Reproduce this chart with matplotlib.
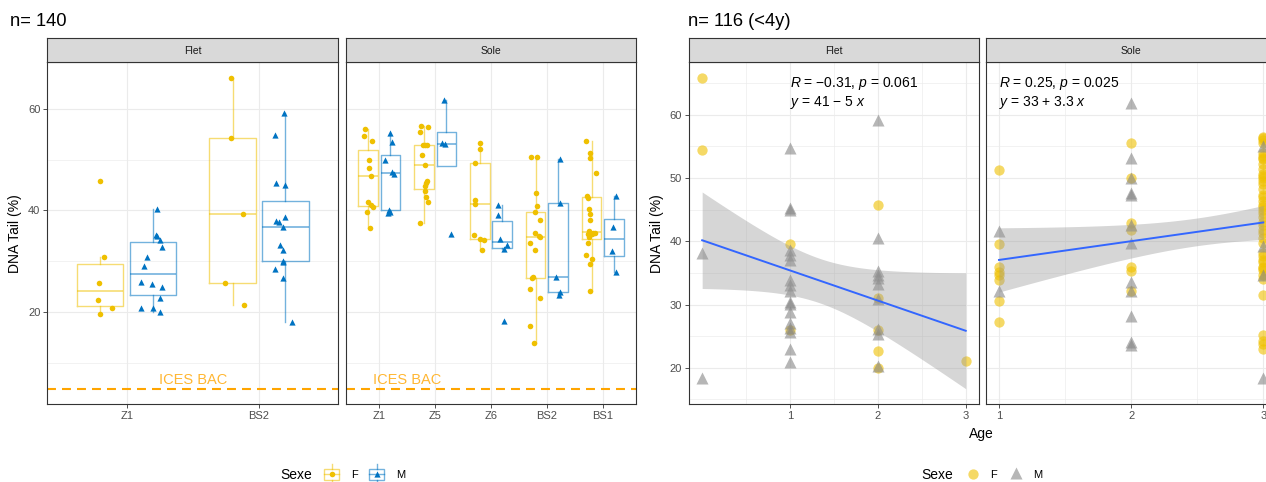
"""Comet assay DNA tail (%) by site and sex (boxplots) and vs. age (lm fits)."""

import numpy as np
import matplotlib

matplotlib.use("Agg")
import matplotlib.pyplot as plt
from matplotlib.colors import to_rgba

plt.rcParams["font.family"] = ["Liberation Sans", "DejaVu Sans"]
plt.rcParams["mathtext.fontset"] = "custom"
plt.rcParams["mathtext.rm"] = "Liberation Sans"
plt.rcParams["mathtext.it"] = "Liberation Sans:italic"

W, H = 1266, 482
YELLOW, BLUE, GREY = "#EFC000", "#0073C2", "#868686"
ICES_BAC = 5.0

# ---- left: DNA tail by site, sex (values + horizontal jitter)
FLET_SITES = ["Z1", "BS2"]
SOLE_SITES = ["Z1", "Z5", "Z6", "BS2", "BS1"]

flet_z1_f = [45.7, 30.8, 25.8, 22.5, 20.8, 19.6]
flet_z1_f_jit = [0.00, 0.03, -0.01, -0.02, 0.09, 0.00]
flet_z1_m = [40.3, 35.2, 34.9, 34.2, 32.8, 30.8, 29.1, 26.0, 25.5, 25.0, 22.9, 20.8, 20.9, 20.0]
flet_z1_m_jit = [0.03, 0.02, 0.03, 0.05, 0.07, -0.05, -0.07, -0.09, -0.01, 0.07, 0.05, -0.09, 0.00, 0.05]
flet_bs2_f = [66.1, 54.2, 39.3, 25.8, 21.4]
flet_bs2_f_jit = [-0.01, -0.01, 0.08, -0.06, 0.09]
flet_bs2_m = [59.2, 54.8, 45.3, 45.1, 38.8, 37.9, 37.8, 36.8, 33.2, 32.2, 30.1, 29.9, 28.5, 26.7, 18.2]
flet_bs2_m_jit = [-0.01, -0.08, -0.07, 0.00, 0.00, -0.07, -0.05, -0.02, -0.04, -0.02, -0.02, -0.02, -0.08, -0.02, 0.05]

sole_z1_f = [56.0, 54.7, 53.7, 50.0, 48.4, 46.8, 41.7, 41.0, 40.7, 39.7, 36.5]
sole_z1_f_jit = [-0.065, -0.083, 0.077, 0.024, 0.018, 0.059, -0.006, 0.047, 0.089, -0.012, 0.041]
sole_z1_m = [55.3, 53.5, 49.9, 47.6, 47.2, 40.1, 39.7, 39.5]
sole_z1_m_jit = [-0.006, 0.024, -0.107, 0.03, 0.071, -0.018, 0.0, -0.047]
sole_z5_f = [56.6, 56.4, 55.5, 52.9, 52.9, 52.9, 50.8, 49.0, 45.7, 45.3, 44.8, 43.8, 42.7, 41.7, 37.5]
sole_z5_f_jit = [-0.05, 0.07, -0.08, -0.02, 0.06, 0.02, -0.03, 0.01, 0.06, 0.04, 0.02, 0.01, 0.03, 0.08, -0.07]
sole_z5_m = [61.7, 53.2, 53.1, 35.4]
sole_z5_m_jit = [-0.04, -0.07, -0.02, 0.08]
sole_z6_f = [53.3, 52.1, 49.4, 42.1, 41.2, 35.2, 34.4, 34.2, 32.2]
sole_z6_f_jit = [0.0, 0.01, -0.09, -0.08, -0.09, -0.10, 0.01, 0.08, 0.04]
sole_z6_m = [41.1, 39.1, 34.4, 33.3, 32.4, 18.3]
sole_z6_m_jit = [-0.08, -0.08, -0.04, 0.09, 0.04, 0.03]
sole_bs2_f = [50.6, 50.6, 43.4, 40.9, 39.7, 38.2, 35.5, 34.9, 34.7, 33.7, 32.2, 27.0, 26.8, 24.6, 22.8, 17.4, 14.0]
sole_bs2_f_jit = [-0.085, 0.02, 0.01, 0.02, -0.01, 0.07, -0.01, 0.06, 0.08, -0.10, -0.01, -0.05, -0.06, -0.10, 0.08, -0.10, -0.03]
sole_bs2_m = [50.1, 41.5, 27.0, 24.0, 23.4]
sole_bs2_m_jit = [0.03, 0.03, -0.03, 0.04, 0.01]
sole_bs1_f = [53.6, 51.2, 50.3, 47.4, 42.8, 42.5, 40.2, 39.4, 38.1, 35.9, 35.5, 35.5, 35.4, 35.4, 34.7, 33.7, 31.2, 30.4, 29.5, 24.1]
sole_bs1_f_jit = [-0.09, -0.02, -0.02, 0.08, -0.08, -0.06, -0.04, -0.03, -0.03, -0.04, 0.02, 0.07, -0.07, 0.0, -0.04, -0.06, -0.09, 0.0, -0.03, -0.03]
sole_bs1_m = [42.8, 36.8, 32.0, 28.0]
sole_bs1_m_jit = [0.04, -0.02, -0.03, 0.04]

# ---- right: DNA tail vs age (<4y)
flet_age_f = [0, 0, 1, 1, 2, 2, 2, 2, 2, 3]
flet_dna_f = [65.9, 54.4, 39.6, 26.0, 45.7, 31.0, 26.0, 22.7, 20.0, 21.0]
flet_age_m = [0, 0] + [1] * 17 + [2] * 10
flet_dna_m = [38.1, 18.3,
              54.8, 45.3, 45.0, 38.7, 37.8, 37.1, 33.8, 33.1, 32.2, 30.4, 30.1, 28.8, 27.0, 26.3, 25.7, 22.9, 20.9,
              59.2, 40.5, 35.3, 34.7, 34.2, 33.2, 30.8, 26.2, 25.3, 20.2]

sole_age_f = [1] * 8 + [2] * 7 + [3] * 44
sole_dna_f = [51.2, 39.6, 36.0, 35.2, 34.6, 33.8, 30.5, 27.2,
              55.6, 50.0, 42.9, 41.8, 36.0, 35.3, 32.2,
              56.5, 56.0, 53.5, 53.0, 52.2, 50.7, 50.0, 49.1, 48.2, 47.4, 46.4, 45.5, 45.0, 43.9,
              42.6, 41.8, 41.3, 40.5, 38.1, 37.6, 36.8, 36.0, 35.4, 34.6, 31.5, 25.1, 24.3, 22.9,
              56.3, 55.5, 54.0, 53.2, 51.5, 50.4, 49.5, 47.0, 45.8, 44.5, 43.0, 39.8, 37.0, 35.8,
              34.0, 23.8]
sole_age_m = [1] * 2 + [2] * 12 + [3] * 4
sole_dna_m = [41.6, 32.1,
              61.8, 53.2, 50.0, 47.7, 47.4, 42.6, 39.7, 33.5, 32.2, 28.2, 24.0, 23.6,
              55.1, 39.2, 34.6, 18.4]

FLET_STATS = ["$R$ = \u22120.31, $p$ = 0.061", "$y$ = 41 \u2212 5 $x$"]
SOLE_STATS = ["$R$ = 0.25, $p$ = 0.025", "$y$ = 33 + 3.3 $x$"]


def px_axes(fig, x0, x1, y0, y1):
    return fig.add_axes([x0 / W, 1 - y1 / H, (x1 - x0) / W, (y1 - y0) / H])


def style_panel(ax):
    for s in ax.spines.values():
        s.set_color("#333333")
        s.set_linewidth(0.8)
    ax.grid(which="major", color="#EBEBEB", lw=0.8)
    ax.grid(which="minor", color="#EBEBEB", lw=0.45)
    ax.set_axisbelow(True)
    ax.tick_params(which="major", length=3, width=0.6, color="#333333",
                   labelsize=8, labelcolor="#4D4D4D", pad=2)
    ax.tick_params(which="minor", length=0)


def strip(fig, x0, x1, label):
    s = px_axes(fig, x0, x1, 38, 62)
    s.set_facecolor("#D9D9D9")
    s.set_xticks([])
    s.set_yticks([])
    for sp in s.spines.values():
        sp.set_color("#333333")
        sp.set_linewidth(0.8)
    s.text(0.5, 0.45, label, ha="center", va="center", fontsize=7.5,
           color="#1A1A1A", transform=s.transAxes)


def box_group(ax, pos, vals, jit, color, marker, ms):
    lc = to_rgba(color, 0.55)
    props = dict(color=lc, lw=1.0)
    ax.boxplot(vals, positions=[pos], widths=0.35, whis=1.5, showfliers=False,
               showcaps=False, boxprops=props, whiskerprops=props,
               medianprops=dict(color=lc, lw=1.2), manage_ticks=False)
    ax.scatter(pos + np.array(jit), vals, s=ms, marker=marker, color=color,
               lw=0, zorder=3)


def t975(df):
    z = 1.959964
    return z + (z ** 3 + z) / (4 * df) + (5 * z ** 5 + 16 * z ** 3 + 3 * z) / (96 * df ** 2)


def lm_band(x, y, xs):
    x, y = np.asarray(x, float), np.asarray(y, float)
    n = len(x)
    b, a = np.polyfit(x, y, 1)
    s = np.sqrt(np.sum((y - (a + b * x)) ** 2) / (n - 2))
    xm = x.mean()
    se = s * np.sqrt(1 / n + (xs - xm) ** 2 / np.sum((x - xm) ** 2))
    fit = a + b * xs
    t = t975(n - 2)
    return fit, fit - t * se, fit + t * se


fig = plt.figure(figsize=(W / 100, H / 100), dpi=100)

# ================= left figure =================
left_groups = {
    "Flet": (FLET_SITES, [(flet_z1_f, flet_z1_f_jit, flet_z1_m, flet_z1_m_jit),
                          (flet_bs2_f, flet_bs2_f_jit, flet_bs2_m, flet_bs2_m_jit)]),
    "Sole": (SOLE_SITES, [(sole_z1_f, sole_z1_f_jit, sole_z1_m, sole_z1_m_jit),
                          (sole_z5_f, sole_z5_f_jit, sole_z5_m, sole_z5_m_jit),
                          (sole_z6_f, sole_z6_f_jit, sole_z6_m, sole_z6_m_jit),
                          (sole_bs2_f, sole_bs2_f_jit, sole_bs2_m, sole_bs2_m_jit),
                          (sole_bs1_f, sole_bs1_f_jit, sole_bs1_m, sole_bs1_m_jit)]),
}
all_left = [v for _, grp in left_groups.values() for g in grp for v in g[0] + g[2]]
lo, hi = min(all_left + [ICES_BAC]), max(all_left)
left_ylim = (lo - 0.05 * (hi - lo), hi + 0.05 * (hi - lo))

for i, (panel, (sites, grp)) in enumerate(left_groups.items()):
    x0, x1 = [(47.3, 338.4), (345.8, 636.2)][i]
    ax = px_axes(fig, x0, x1, 62, 404.3)
    style_panel(ax)
    strip(fig, x0, x1, panel)
    for k, (f, fj, m, mj) in enumerate(grp):
        box_group(ax, k + 1 - 0.2, f, fj, YELLOW, "o", 16)
        box_group(ax, k + 1 + 0.2, m, mj, BLUE, "^", 20)
    ax.axhline(ICES_BAC, color="#FFA500", lw=1.5, dashes=(4.3, 2.9))
    ax.text(1.5, ICES_BAC + 0.3, "ICES BAC", color="#FFA500", alpha=0.8,
            fontsize=10.5, ha="center", va="bottom")
    ax.set_xlim(0.4, len(sites) + 0.6)
    ax.set_xticks(np.arange(1, len(sites) + 1))
    ax.set_xticklabels(sites)
    ax.set_ylim(*left_ylim)
    ax.set_yticks([20, 40, 60])
    ax.set_yticks([10, 30, 50], minor=True)
    if i == 0:
        ax.set_ylabel("DNA Tail (%)", fontsize=10, labelpad=4)
    else:
        ax.tick_params(axis="y", which="both", left=False, labelleft=False)

# ================= right figure =================
right_data = {
    "Flet": (flet_age_f, flet_dna_f, flet_age_m, flet_dna_m, FLET_STATS,
             (689.0, 978.9), (-0.15, 3.15), [0.5, 1.5, 2.5]),
    "Sole": (sole_age_f, sole_dna_f, sole_age_m, sole_dna_m, SOLE_STATS,
             (985.8, 1276.5), (0.9, 3.1), [1.5, 2.5]),
}
fits = {}
ylo, yhi = [], []
for panel, (af, df, am, dm, *_rest) in right_data.items():
    xs_all = np.array(af + am, float)
    ys_all = np.array(df + dm, float)
    xs = np.linspace(xs_all.min(), xs_all.max(), 80)
    fits[panel] = (xs,) + lm_band(xs_all, ys_all, xs)
    ylo += [ys_all.min(), fits[panel][2].min()]
    yhi += [ys_all.max(), fits[panel][3].max()]
lo, hi = min(ylo), max(yhi)
right_ylim = (lo - 0.05 * (hi - lo), hi + 0.05 * (hi - lo))

for i, (panel, (af, df, am, dm, stats, (x0, x1), xlim, minors)) in enumerate(right_data.items()):
    ax = px_axes(fig, x0, x1, 62, 404.3)
    style_panel(ax)
    strip(fig, x0, x1, panel)
    ax.scatter(af, df, s=55, marker="o", color=YELLOW, alpha=0.6, lw=0, zorder=2)
    ax.scatter(am, dm, s=75, marker="^", color=GREY, alpha=0.6, lw=0, zorder=2)
    xs, fit, lwr, upr = fits[panel]
    ax.fill_between(xs, lwr, upr, color="#999999", alpha=0.4, lw=0, zorder=3)
    ax.plot(xs, fit, color="#3366FF", lw=1.4, zorder=4)
    ax.text(1, 65.0, stats[0], fontsize=10, ha="left", va="center", zorder=5)
    ax.text(1, 61.9, stats[1], fontsize=10, ha="left", va="center", zorder=5)
    ax.set_xlim(*xlim)
    ax.set_xticks([1, 2, 3])
    ax.set_xticks(minors, minor=True)
    ax.set_ylim(*right_ylim)
    ax.set_yticks([20, 30, 40, 50, 60])
    ax.set_yticks([15, 25, 35, 45, 55, 65], minor=True)
    if i == 0:
        ax.set_ylabel("DNA Tail (%)", fontsize=10, labelpad=4)
    else:
        ax.tick_params(axis="y", which="both", left=False, labelleft=False)

# ================= titles, axis title, legends (pixel overlay) =================
ov = fig.add_axes([0, 0, 1, 1])
ov.set_xlim(0, W)
ov.set_ylim(H, 0)
ov.axis("off")

ov.text(10, 21, "n= 140", fontsize=13.2, ha="left", va="center")
ov.text(688, 21, "n= 116 (<4y)", fontsize=13.2, ha="left", va="center")
ov.text(981, 434, "Age", fontsize=10, ha="center", va="center")

# left legend: boxplot keys
ov.text(280, 475, "Sexe", fontsize=10, ha="left", va="center")
for cx, color, marker, lab in [(331.5, YELLOW, "o", "F"), (376.5, BLUE, "^", "M")]:
    lc = to_rgba(color, 0.55)
    ov.add_patch(plt.Rectangle((cx - 7.5, 469), 15, 10.5, fill=False, ec=lc, lw=1.0))
    ov.plot([cx, cx], [464, 469], color=lc, lw=1.0)
    ov.plot([cx, cx], [479.5, 484], color=lc, lw=1.0)
    ov.plot([cx - 7.5, cx + 7.5], [474, 474], color=lc, lw=1.0)
    ov.scatter([cx], [474], s=16 if marker == "o" else 20, marker=marker, color=color, lw=0)
    ov.text(cx + 20, 475, lab, fontsize=8, ha="left", va="center")

# right legend: point keys
ov.text(921, 475, "Sexe", fontsize=10, ha="left", va="center")
ov.scatter([973], [474], s=55, marker="o", color=YELLOW, alpha=0.6, lw=0)
ov.text(990, 475, "F", fontsize=8, ha="left", va="center")
ov.scatter([1016], [473], s=75, marker="^", color=GREY, alpha=0.6, lw=0)
ov.text(1033, 475, "M", fontsize=8, ha="left", va="center")

fig.savefig("out.png", dpi=100)
